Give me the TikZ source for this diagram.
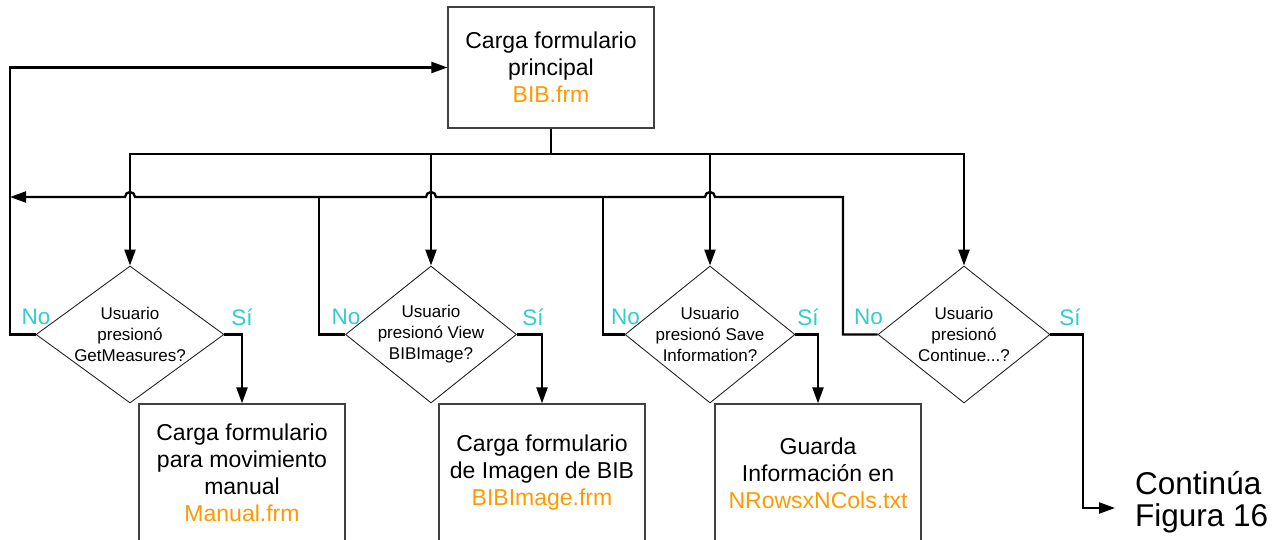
\documentclass[tikz,border=0pt]{standalone}
\usepackage{fontspec}
\setmainfont{Liberation Sans}
\usetikzlibrary{shapes.geometric,arrows.meta}
\definecolor{filename}{RGB}{255,153,0}
\definecolor{answer}{RGB}{51,204,204}
\definecolor{outline}{RGB}{64,64,64}

\begin{document}
\begin{tikzpicture}[x=1pt,y=-1pt,
  procbox/.style={draw=outline,line width=1.2pt,minimum width=206pt,align=center,
    font=\fontsize{23}{27}\selectfont,inner sep=0pt},
  decision/.style={draw=black!85,line width=0.9pt,diamond,inner sep=0pt,
    minimum height=137pt},
  dtext/.style={align=center,font=\fontsize{17}{21}\selectfont,inner sep=0pt},
  answer label/.style={text=answer,font=\fontsize{22.5}{24}\selectfont,inner sep=0pt},
  flow/.style={line width=2.3pt,line join=miter},
  arrowed/.style={flow,-{Triangle[length=16pt,width=11pt]}},
]
\clip (0,0) rectangle (1287,540);

% main form
\node[procbox,minimum height=121pt] (main) at (551,67.5)
  {Carga formulario\\principal\\\textcolor{filename}{BIB.frm}};

% decisions
\node[decision,minimum width=188pt] (d1) at (130,334.5) {};
\node[decision,minimum width=171pt] (d2) at (431,334.5) {};
\node[decision,minimum width=170pt] (d3) at (710,334.5) {};
\node[decision,minimum width=172pt] (d4) at (964,334.5) {};
\node[dtext] at (d1) {Usuario\\presionó\\GetMeasures?};
\node[dtext] at (d2) {Usuario\\presionó View\\BIBImage?};
\node[dtext] at (d3) {Usuario\\presionó Save\\Information?};
\node[dtext] at (d4) {Usuario\\presionó\\Continue...?};

% actions
\node[procbox,minimum height=138pt] (b1) at (242,473)
  {Carga formulario\\para movimiento\\manual\\\textcolor{filename}{Manual.frm}};
\node[procbox,minimum height=138pt] (b2) at (542,473)
  {Carga formulario\\de Imagen de BIB\\\textcolor{filename}{BIBImage.frm}};
\node[procbox,minimum height=138pt] (b3) at (818,473)
  {Guarda\\Información en\\\textcolor{filename}{NRowsxNCols.txt}};

\node[anchor=west,align=left,inner sep=0pt,font=\fontsize{31.5}{31.5}\selectfont]
  (cont) at (1135,502) {Continúa\\Figura 16};

% answer labels
\node[answer label] at (36,317) {No};
\node[answer label] at (242,317) {Sí};
\node[answer label] at (346,317) {No};
\node[answer label] at (533,317) {Sí};
\node[answer label] at (625.5,317) {No};
\node[answer label] at (808,317) {Sí};
\node[answer label] at (868.5,317) {No};
\node[answer label] at (1070,317) {Sí};

% helper points
\path (main.south) ++(0,25.5) coordinate (split);
\coordinate (ret) at (843,197);
\coordinate (r2) at (319,197);
\coordinate (r3) at (603,197);
\coordinate (lc) at (10,334.5);
\coordinate (h1) at (d1.north |- ret);
\coordinate (h2) at (d2.north |- ret);
\coordinate (h3) at (d3.north |- ret);
\coordinate (c4) at (1083,508);
\coordinate (tip) at (1115,508);

% distribution from the main form
\draw[flow] (main.south) -- (split);
\draw[arrowed] (split) -| (d1.north);
\draw[arrowed] (split) -| (d4.north);
\draw[arrowed] (d2.north |- split) -- (d2.north);
\draw[arrowed] (d3.north |- split) -- (d3.north);

% "No" returns
\draw[arrowed] (d4.west) -| (ret)
  -- ([xshift=5pt]h3) arc[start angle=0,end angle=180,radius=5pt]
  -- ([xshift=5pt]h2) arc[start angle=0,end angle=180,radius=5pt]
  -- ([xshift=5pt]h1) arc[start angle=0,end angle=180,radius=5pt]
  -- (lc |- ret);
\draw[flow] (d2.west) -| (r2);
\draw[flow] (d3.west) -| (r3);
\draw[arrowed] (d1.west) -- (lc) |- (main.west);

% "Sí" branches
\draw[arrowed] (d1.east) -| (b1.north);
\draw[arrowed] (d2.east) -| (b2.north);
\draw[arrowed] (d3.east) -| (b3.north);
\draw[arrowed] (d4.east) -| (c4) -- (tip);
\end{tikzpicture}
\end{document}
